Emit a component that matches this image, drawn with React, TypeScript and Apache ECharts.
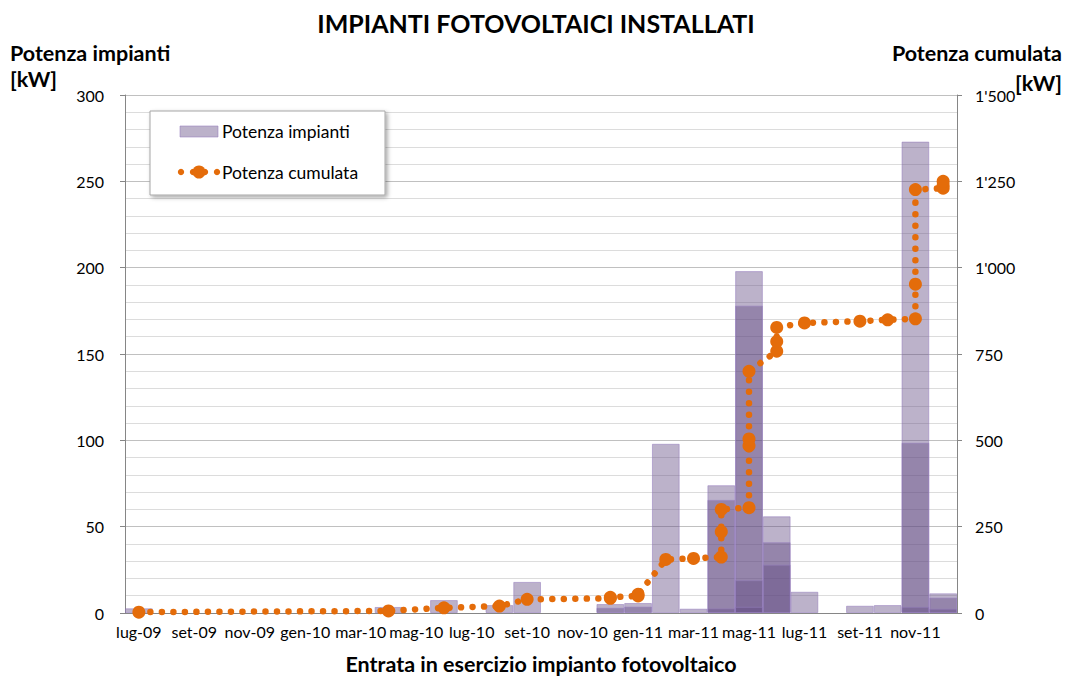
import React, { useEffect, useRef } from "react";
import * as echarts from "echarts";

const months = [
  "lug-09", "ago-09", "set-09", "ott-09", "nov-09", "dic-09",
  "gen-10", "feb-10", "mar-10", "apr-10", "mag-10", "giu-10",
  "lug-10", "ago-10", "set-10", "ott-10", "nov-10", "dic-10",
  "gen-11", "feb-11", "mar-11", "apr-11", "mag-11", "giu-11",
  "lug-11", "ago-11", "set-11", "ott-11", "nov-11", "dic-11",
];

// Installations per month, overlapping bars (layer 1 = largest in month)
const layer1 = [2.7, null, null, null, null, null, null, null, null, 3.5, null, 7.5, null, 4.6, 18, null, null, 5.2, 5.8, 98, 2.5, 74, 198, 56, 12.3, null, 4.2, 4.6, 273, 11.4];
const layer2 = [null, null, null, null, null, null, null, null, null, null, null, null, null, null, null, null, null, 3, 3.7, null, null, 65.5, 178, 41, null, null, null, null, 98.6, 8.9];
const layer3 = [null, null, null, null, null, null, null, null, null, null, null, null, null, null, null, null, null, null, null, null, null, 2.7, 19, 28, null, null, null, null, 3.6, 2.5];
const layer4 = [null, null, null, null, null, null, null, null, null, null, null, null, null, null, null, null, null, null, null, null, null, null, 3.6, null, null, null, null, null, null, null];

// Cumulative power: month of each installation and cumulated value
const cumMonths = ["lug-09", "apr-10", "giu-10", "ago-10", "set-10", "dic-10", "dic-10", "gen-11", "gen-11", "feb-11", "mar-11", "apr-11", "apr-11", "apr-11", "mag-11", "mag-11", "mag-11", "mag-11", "giu-11", "giu-11", "giu-11", "lug-11", "set-11", "ott-11", "nov-11", "nov-11", "nov-11", "dic-11", "dic-11", "dic-11"];
const cumValues = [2.5, 6, 15, 20, 39.5, 42.5, 45.5, 49.5, 54, 155, 158, 162, 235, 300, 305, 484, 504, 700, 758, 786, 827, 840, 845, 849, 852, 952, 1226, 1230, 1239, 1250];

const leftTicks = [0, 300, 50];
const rightTicks = [0, 1500, 250];

const FONT = "Lato, 'Open Sans', sans-serif";
const BAR_COLOR = "rgba(96,72,128,0.42)";
const BAR_BORDER = "rgba(150,125,190,0.55)";
const LINE_COLOR = "#E46C0A";

export default function App() {
  const ref = useRef<HTMLDivElement>(null);
  useEffect(() => {
    if (!ref.current) return;
    const chart = echarts.init(ref.current, null, { renderer: "svg" });
    const barSeries = [layer1, layer2, layer3, layer4].map((d, i) => ({
      name: i === 0 ? "Potenza impianti" : "layer" + (i + 1),
      type: "bar",
      data: d,
      barGap: "-100%",
      barCategoryGap: 0,
      itemStyle: { color: BAR_COLOR, borderColor: BAR_BORDER, borderWidth: 1 },
      emphasis: { disabled: true },
      yAxisIndex: 0,
    }));
    const bold = (size: number) => "bold " + size + "px " + FONT;
    chart.setOption({
      animation: false,
      textStyle: { fontFamily: FONT },
      grid: { left: 125, right: 113, top: 95, bottom: 64, containLabel: false },
      xAxis: {
        type: "category",
        data: months,
        boundaryGap: true,
        axisLine: { lineStyle: { color: "#868686" } },
        axisTick: { interval: 1, alignWithLabel: false, length: 6, lineStyle: { color: "#868686" } },
        axisLabel: { interval: 1, color: "#000", fontSize: 16, margin: 10, fontFamily: FONT },
        splitLine: { show: false },
      },
      yAxis: [
        {
          type: "value",
          min: leftTicks[0],
          max: leftTicks[1],
          interval: leftTicks[2],
          position: "left",
          axisLine: { show: true, lineStyle: { color: "#868686" } },
          axisTick: { show: true, length: 5, lineStyle: { color: "#868686" } },
          axisLabel: { color: "#000", fontSize: 16, margin: 21, fontFamily: FONT },
          splitLine: { show: true, lineStyle: { color: "#C0C0C0", width: 1 } },
          minorTick: { show: false, splitNumber: 5 },
          minorSplitLine: { show: true, lineStyle: { color: "#DCDCDC", width: 1 } },
        },
        {
          type: "value",
          min: rightTicks[0],
          max: rightTicks[1],
          interval: rightTicks[2],
          position: "right",
          axisLine: { show: true, lineStyle: { color: "#868686" } },
          axisTick: { show: true, length: 5, lineStyle: { color: "#868686" } },
          axisLabel: {
            color: "#000",
            fontSize: 16,
            margin: 18,
            fontFamily: FONT,
            formatter: (v: number) => (v >= 1000 ? Math.floor(v / 1000) + "'" + String(v % 1000).padStart(3, "0") : String(v)),
          },
          splitLine: { show: false },
        },
      ],
      series: [
        ...barSeries,
        {
          name: "Potenza cumulata",
          type: "line",
          yAxisIndex: 1,
          data: cumMonths.map((m, i) => [m, cumValues[i]]),
          symbol: "circle",
          symbolSize: 13,
          itemStyle: { color: LINE_COLOR },
          lineStyle: { color: LINE_COLOR, width: 6.5, type: [0.01, 11.5], cap: "round" },
          emphasis: { disabled: true },
          z: 5,
        },
      ],
      graphic: [
        {
          type: "text",
          x: 536,
          y: 23,
          style: { text: "IMPIANTI FOTOVOLTAICI INSTALLATI", font: bold(25), fill: "#000", align: "center", verticalAlign: "middle" },
        },
        { type: "text", x: 10, y: 53, style: { text: "Potenza impianti", font: bold(21.5), fill: "#000", verticalAlign: "middle" } },
        { type: "text", x: 10, y: 79, style: { text: "[kW]", font: bold(21.5), fill: "#000", verticalAlign: "middle" } },
        { type: "text", x: 1062, y: 53, style: { text: "Potenza cumulata", font: bold(21.5), fill: "#000", align: "right", verticalAlign: "middle" } },
        { type: "text", x: 1062, y: 83, style: { text: "[kW]", font: bold(21.5), fill: "#000", align: "right", verticalAlign: "middle" } },
        {
          type: "text",
          x: 541,
          y: 664,
          style: { text: "Entrata in esercizio impianto fotovoltaico", font: bold(21.5), fill: "#000", align: "center", verticalAlign: "middle" },
        },
        {
          type: "rect",
          shape: { x: 150, y: 111, width: 235, height: 84 },
          style: { fill: "#fff", stroke: "#A6A6A6", lineWidth: 1, shadowBlur: 4, shadowOffsetX: 2, shadowOffsetY: 2, shadowColor: "rgba(0,0,0,0.35)" },
          z: 10,
        },
        {
          type: "rect",
          shape: { x: 180, y: 126, width: 38, height: 11 },
          style: { fill: BAR_COLOR, stroke: BAR_BORDER, lineWidth: 1 },
          z: 11,
        },
        { type: "text", x: 222, y: 131, style: { text: "Potenza impianti", font: "17.5px " + FONT, fill: "#000", verticalAlign: "middle" }, z: 11 },
        { type: "circle", shape: { cx: 181, cy: 172, r: 3.2 }, style: { fill: LINE_COLOR }, z: 11 },
        { type: "circle", shape: { cx: 193, cy: 172, r: 3.2 }, style: { fill: LINE_COLOR }, z: 11 },
        { type: "circle", shape: { cx: 199, cy: 172, r: 6.5 }, style: { fill: LINE_COLOR }, z: 11 },
        { type: "circle", shape: { cx: 205, cy: 172, r: 3.2 }, style: { fill: LINE_COLOR }, z: 11 },
        { type: "circle", shape: { cx: 217, cy: 172, r: 3.2 }, style: { fill: LINE_COLOR }, z: 11 },
        { type: "text", x: 222, y: 172, style: { text: "Potenza cumulata", font: "17.5px " + FONT, fill: "#000", verticalAlign: "middle" }, z: 11 },
      ],
    });
    return () => chart.dispose();
  }, []);
  return <div ref={ref} style={{ width: 1070, height: 677, position: "absolute", left: 0, top: 0 }} />;
}
